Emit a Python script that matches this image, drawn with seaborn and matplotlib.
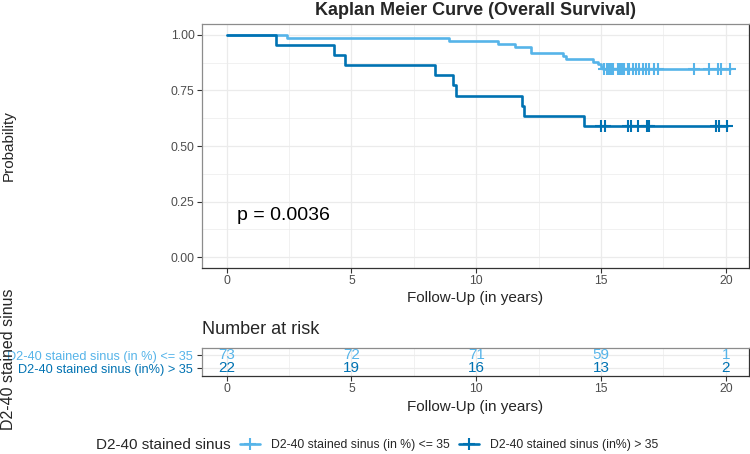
import matplotlib
matplotlib.use("Agg")
import matplotlib.pyplot as plt
import seaborn as sns
import pandas as pd
import numpy as np
from matplotlib.lines import Line2D
from matplotlib.ticker import MultipleLocator

sns.set_theme(style="whitegrid")
plt.rcParams["font.family"] = ["Liberation Sans", "DejaVu Sans"]

# ---------------- data ----------------
groups = ["D2-40 stained sinus (in %) <= 35", "D2-40 stained sinus (in%) > 35"]
colors = ["#56B4E9", "#0072B2"]

low_times = [0, 2.42, 8.9, 10.86, 11.56, 12.2, 13.49, 13.6, 14.67, 14.87, 15.0, 15.07, 20.15]
low_surv = [1.0, 0.986, 0.973, 0.959, 0.945, 0.918, 0.904, 0.890, 0.876, 0.867, 0.857, 0.845, 0.845]
low_censor = [15.13, 15.23, 15.3, 15.4, 15.47, 15.67, 15.73, 15.8, 15.87, 15.93, 16.07,
              16.13, 16.27, 16.4, 16.53, 16.67, 16.8, 16.93, 17.13, 17.27, 18.73, 19.33,
              19.67, 19.8, 20.15]

high_times = [0, 1.96, 4.3, 4.76, 8.36, 9.07, 9.17, 11.83, 11.9, 14.33, 20.05]
high_surv = [1.0, 0.955, 0.909, 0.864, 0.818, 0.773, 0.727, 0.682, 0.636, 0.591, 0.591]
high_censor = [15.0, 15.17, 16.1, 16.2, 16.5, 16.86, 16.92, 19.6, 19.72, 20.05]

risk_times = [0, 5, 10, 15, 20]
risk_low = [73, 72, 71, 59, 1]
risk_high = [22, 19, 16, 13, 2]

pval_text = "p = 0.0036"
title = "Kaplan Meier Curve (Overall Survival)"
xlabel = "Follow-Up (in years)"
ylabel = "Probability"
legend_title = "D2-40 stained sinus"

# ---------------- layout ----------------
W, H = 750, 454
fig = plt.figure(figsize=(W / 100, H / 100), dpi=100)

def box(l, t, r, b):
    return [l / W, 1 - b / H, (r - l) / W, (b - t) / H]

ax = fig.add_axes(box(202.3, 24.3, 749, 267.7))
axr = fig.add_axes(box(202.3, 347.7, 749, 375.7))

grid_c = "#EBEBEB"
tick_c = "#4D4D4D"

curves = [(low_times, low_surv, low_censor), (high_times, high_surv, high_censor)]
for g, col, (t, s, c) in zip(groups, colors, curves):
    df = pd.DataFrame({"time": t, "surv": s})
    sns.lineplot(data=df, x="time", y="surv", ax=ax, color=col, lw=1.9,
                 drawstyle="steps-post", estimator=None, sort=False, legend=False)
    idx = np.searchsorted(np.array(t), np.array(c), side="right") - 1
    cdf = pd.DataFrame({"time": c, "surv": np.array(s)[idx]})
    sns.scatterplot(data=cdf, x="time", y="surv", ax=ax, color=col, marker="+",
                    s=65, linewidth=1.5, legend=False, zorder=3)

ax.text(0.4, 0.186, pval_text, fontsize=14, ha="left", va="center", color="black")

ax.set_xlim(-0.978, 20.93)
ax.set_ylim(-0.048, 1.048)
ax.xaxis.set_major_locator(MultipleLocator(5))
ax.xaxis.set_minor_locator(MultipleLocator(2.5))
ax.yaxis.set_major_locator(MultipleLocator(0.25))
ax.yaxis.set_minor_locator(MultipleLocator(0.125))
ax.set_yticklabels([f"{v:.2f}" for v in ax.get_yticks()])
ax.set_xlabel("")
ax.set_ylabel("")

# risk table
for yv, vals, col in [(2, risk_low, colors[0]), (1, risk_high, colors[1])]:
    for xv, n in zip(risk_times, vals):
        axr.text(xv, yv, str(n), fontsize=11, ha="center", va="center", color=col)
axr.set_xlim(-0.978, 20.93)
axr.set_ylim(0.4, 2.6)
axr.set_yticks([2, 1])
axr.set_yticklabels(groups)
axr.set_xticks(risk_times)
axr.xaxis.set_minor_locator(MultipleLocator(2.5))

for a in (ax, axr):
    a.set_facecolor("white")
    a.grid(True, which="major", color=grid_c, lw=0.9)
    a.grid(True, which="minor", color=grid_c, lw=0.5)
    a.set_axisbelow(True)
    a.tick_params(axis="both", which="major", length=3.5, width=0.8, color="#333333",
                  labelsize=8.8, labelcolor=tick_c, pad=2, bottom=True, left=True)
    a.tick_params(axis="both", which="minor", length=0)
    for side, sp in a.spines.items():
        sp.set_visible(True)
        sp.set_linewidth(0.9)
        sp.set_color("#8C8C8C" if side in ("top", "left") else "#333333")
axr.tick_params(axis="y", pad=3.5)
for lab, col in zip(axr.get_yticklabels(), colors):
    lab.set_color(col)
    lab.set_fontsize(9.2)

# texts
fig.text(475.5 / W, 1 - 10.5 / H, title, fontsize=13, fontweight="bold", ha="center", va="center")
fig.text(475.5 / W, 1 - 298 / H, xlabel, fontsize=11, ha="center", va="center")
fig.text(475.5 / W, 1 - 407 / H, xlabel, fontsize=11, ha="center", va="center")
fig.text(8.5 / W, 1 - 146 / H, ylabel, fontsize=11, rotation=90, ha="center", va="center")
fig.text(8.5 / W, 1 - 359 / H, legend_title, fontsize=11.5, rotation=90, ha="center", va="center")
fig.text(202.3 / W, 1 - 330 / H, "Number at risk", fontsize=13, ha="left", va="center")

# legend
fig.text(95.7 / W, 1 - 445 / H, legend_title, fontsize=11, ha="left", va="center")
handles = [Line2D([0], [0], color=c, lw=1.9, marker="+", markersize=8, mew=1.5) for c in colors]
fig.legend(handles, groups, loc="center left", bbox_to_anchor=(240 / W, 1 - 445 / H),
           ncol=2, frameon=False, fontsize=8.8, handlelength=1.6, handletextpad=0.9,
           columnspacing=0.8, borderpad=0, borderaxespad=0)

fig.savefig("out.png", dpi=100)
